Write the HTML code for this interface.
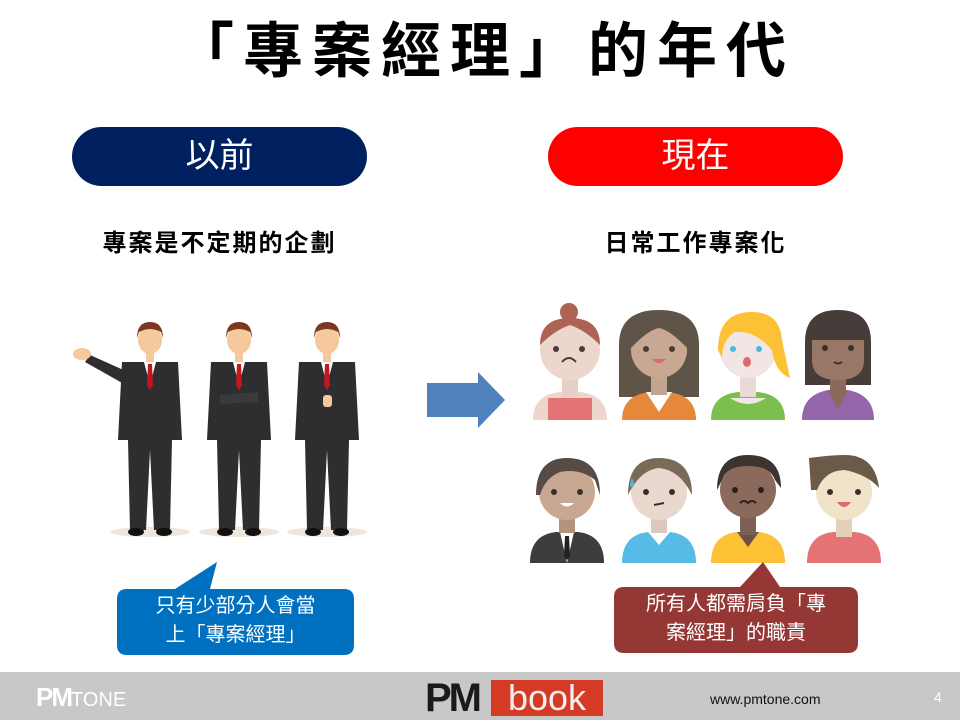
<!DOCTYPE html>
<html><head><meta charset="utf-8"><style>
html,body{margin:0;padding:0;background:#fff}
body{width:960px;height:720px;position:relative;overflow:hidden;font-family:"Liberation Sans","Noto Sans CJK TC",sans-serif}
.t{position:absolute;white-space:nowrap}
</style></head><body>
<div class="t" style="left:0;width:960px;top:10px;text-align:center;font-size:60px;font-weight:bold;line-height:84px;letter-spacing:9px;text-indent:9px">「專案經理」的年代</div>
<div class="t" style="left:72px;top:127px;width:295px;height:59px;border-radius:30px;background:#002060;color:#fff;font-size:34px;text-align:center;line-height:59px">以前</div>
<div class="t" style="left:548px;top:127px;width:295px;height:59px;border-radius:30px;background:#ff0000;color:#fff;font-size:34px;text-align:center;line-height:59px">現在</div>
<div class="t" style="left:72px;width:295px;top:229px;text-align:center;font-size:24px;font-weight:bold;line-height:30px;letter-spacing:2px">專案是不定期的企劃</div>
<div class="t" style="left:548px;width:295px;top:229px;text-align:center;font-size:24px;font-weight:bold;line-height:30px;letter-spacing:2px">日常工作專案化</div>

<svg width="960" height="720" style="position:absolute;left:0;top:0">
<defs>
<g id="man">
<ellipse cx="0" cy="532" rx="40" ry="5" fill="#eee6dd"/>
<path d="M-28 362 L28 362 L32 440 L22 440 L20 530 L4 530 L0 450 L-4 530 L-20 530 L-22 440 L-32 440 Z" fill="#2e2e30"/>
<path d="M-6 362 L6 362 L0 385 Z" fill="#fff"/>
<path d="M-2 364 L2 364 L3 385 L0 390 L-3 385 Z" fill="#c4161c"/>
<rect x="-4" y="350" width="8" height="12" fill="#f5c99b"/>
<ellipse cx="0" cy="340" rx="12" ry="14" fill="#f5c99b"/>
<path d="M-13 338 Q-13 322 0 322 Q13 322 13 338 L11 332 Q0 326 -11 332 Z" fill="#7a3a22"/>
<ellipse cx="-14" cy="532" rx="8" ry="4" fill="#111"/><ellipse cx="14" cy="532" rx="8" ry="4" fill="#111"/>
</g>
</defs>
<use href="#man" x="150" y="0"/>
<path d="M128 372 L90 355 L85 362 L124 384 Z" fill="#2e2e30"/>
<ellipse cx="82" cy="354" rx="9" ry="6" fill="#f5c99b"/>
<use href="#man" x="239" y="0"/>
<path d="M220 395 L258 392 L258 402 L220 404 Z" fill="#3a3a3c"/>
<use href="#man" x="327" y="0"/>
<rect x="323" y="395" width="9" height="12" rx="3" fill="#f5c99b"/>

<path d="M427 383 L478 383 L478 372 L505 400 L478 428 L478 417 L427 417 Z" fill="#4f81bd"/>

<g>
<path d="M533 420 Q533 395 560 392 L580 392 Q607 395 607 420 Z" fill="#edd6cc"/>
<path d="M548 420 L548 398 L592 398 L592 420 Z" fill="#e57373"/>
<rect x="562" y="375" width="16" height="22" fill="#e6cfc4"/>
<circle cx="570" cy="350" r="30" fill="#edd6cc"/>
<path d="M540 345 Q540 318 570 318 Q600 318 600 345 Q585 330 570 325 Q555 330 540 345Z" fill="#ad6352"/>
<circle cx="569" cy="312" r="9" fill="#ad6352"/>
<circle cx="556" cy="349" r="3" fill="#4a3b35"/><circle cx="582" cy="349" r="3" fill="#4a3b35"/>
<path d="M562 362 Q569 354 576 362" stroke="#4a3b35" stroke-width="2" fill="none"/>

<path d="M619 397 L619 345 Q619 310 659 310 Q699 310 699 345 L699 397 Z" fill="#5e5447"/>
<path d="M622 420 Q622 395 650 392 L668 392 Q696 395 696 420 Z" fill="#e6883a"/>
<path d="M646 392 L659 412 L672 392 Z" fill="#fff"/>
<rect x="651" y="375" width="16" height="20" fill="#c2a58f"/>
<circle cx="659" cy="350" r="28" fill="#c9a893"/>
<path d="M631 348 Q631 320 659 320 Q687 320 687 348 Q670 330 659 328 Q648 330 631 348Z" fill="#5e5447"/>
<circle cx="646" cy="349" r="3" fill="#4a3b35"/><circle cx="672" cy="349" r="3" fill="#4a3b35"/>
<path d="M652 359 L666 359 Q659 367 652 359Z" fill="#e0696f"/>

<path d="M711 420 Q711 395 738 392 L758 392 Q785 395 785 420 Z" fill="#7cbf4e"/>
<path d="M730 398 L766 398 Q748 410 730 398Z" fill="#f2e6e4"/>
<rect x="740" y="375" width="16" height="22" fill="#eadad6"/>
<circle cx="748" cy="350" r="28" fill="#f2e6e4"/>
<path d="M718 350 Q718 312 752 312 Q780 312 782 340 L790 378 Q775 372 772 350 Q755 330 735 332 Q722 340 722 358Z" fill="#fdc135"/>
<circle cx="733" cy="349" r="3" fill="#4fb6e0"/><circle cx="759" cy="349" r="3" fill="#4fb6e0"/>
<ellipse cx="747" cy="362" rx="4" ry="5" fill="#e0696f"/>

<path d="M805 385 L805 342 Q805 310 838 310 Q871 310 871 342 L871 385 Z" fill="#463d3b"/>
<path d="M802 420 Q802 395 828 390 L848 390 Q874 395 874 420 Z" fill="#9467ab"/>
<path d="M828 390 L838 410 L848 390Z" fill="#8b6a5c"/>
<rect x="830" y="372" width="16" height="22" fill="#8b6a5c"/>
<path d="M812 340 L864 340 L864 360 Q864 380 838 380 Q812 380 812 360Z" fill="#997767"/>
<circle cx="825" cy="348" r="3" fill="#3a2e2b"/><circle cx="851" cy="348" r="3" fill="#3a2e2b"/>
<path d="M834 362 Q838 365 842 362" stroke="#3a2e2b" stroke-width="2" fill="none"/>
</g>
<g>
<path d="M530 563 Q530 535 556 532 L578 532 Q604 535 604 563 Z" fill="#3e3d3d"/>
<path d="M560 532 L567 563 L574 532Z" fill="#fff"/><path d="M565 536 L569 536 L570 556 L567 560 L564 556Z" fill="#222"/>
<rect x="559" y="515" width="16" height="18" fill="#b39380"/>
<circle cx="567" cy="492" r="28" fill="#c9a893"/>
<path d="M536 495 Q536 458 567 458 Q600 458 600 495 L595 480 Q580 468 560 472 Q545 478 540 495Z" fill="#574b45"/>
<circle cx="554" cy="492" r="3" fill="#3a2e2b"/><circle cx="580" cy="492" r="3" fill="#3a2e2b"/>
<path d="M560 503 L574 503 Q567 510 560 503Z" fill="#fff"/>

<path d="M622 563 Q622 535 648 532 L670 532 Q696 535 696 563 Z" fill="#56bbe6"/>
<path d="M648 532 L659 545 L670 532Z" fill="#fff"/>
<rect x="651" y="515" width="16" height="18" fill="#dcc8bd"/>
<circle cx="659" cy="492" r="28" fill="#ead8cf"/>
<path d="M628 495 Q628 458 659 458 Q692 458 692 495 Q680 470 659 468 Q640 470 628 495Z" fill="#7a6a58"/>
<path d="M632 478 Q628 486 632 488 Q636 486 632 478Z" fill="#4fb6e0"/>
<circle cx="646" cy="492" r="3" fill="#3a2e2b"/><circle cx="672" cy="492" r="3" fill="#3a2e2b"/>
<path d="M654 505 L664 503" stroke="#3a2e2b" stroke-width="2"/>

<path d="M711 563 Q711 535 737 532 L759 532 Q785 535 785 563 Z" fill="#fdc135"/>
<path d="M737 532 L748 547 L759 532Z" fill="#6b5145"/>
<rect x="740" y="515" width="16" height="20" fill="#7d6053"/>
<circle cx="748" cy="490" r="28" fill="#8b6a5c"/>
<path d="M717 490 Q717 455 748 455 Q781 455 781 488 L775 480 Q770 466 748 466 Q726 466 722 480Z" fill="#3d3331"/>
<circle cx="735" cy="490" r="3" fill="#2a201d"/><circle cx="761" cy="490" r="3" fill="#2a201d"/>
<path d="M740 503 Q744 499 748 503 Q752 499 756 503" stroke="#2a201d" stroke-width="2" fill="none"/>

<path d="M807 563 Q807 535 833 532 L855 532 Q881 535 881 563 Z" fill="#e57373"/>
<rect x="836" y="515" width="16" height="22" fill="#e2d0b8"/>
<circle cx="844" cy="492" r="28" fill="#f1e3c9"/>
<path d="M811 490 L809 458 Q830 455 845 455 Q875 455 879 488 Q868 475 845 470 Q825 470 817 490Z" fill="#6b5a48"/>
<circle cx="830" cy="492" r="3" fill="#3a2e2b"/><circle cx="858" cy="492" r="3" fill="#3a2e2b"/>
<path d="M837 502 L851 502 Q844 512 837 502Z" fill="#e0696f"/>
</g>

<path d="M127 589 L175 589 L217 562 L210 589 L344 589 Q354 589 354 599 L354 645 Q354 655 344 655 L127 655 Q117 655 117 645 L117 599 Q117 589 127 589Z" fill="#0070c0"/>
<path d="M624 587 L740 587 L763 562 L780 587 L848 587 Q858 587 858 597 L858 643 Q858 653 848 653 L624 653 Q614 653 614 643 L614 597 Q614 587 624 587Z" fill="#953735"/>
</svg>
<div class="t" style="left:117px;width:237px;top:592px;text-align:center;color:#fff;font-size:20px;line-height:29px">只有少部分人會當<br>上「專案經理」</div>
<div class="t" style="left:614px;width:244px;top:590px;text-align:center;color:#fff;font-size:20px;line-height:29px">所有人都需肩負「專<br>案經理」的職責</div>

<div style="position:absolute;left:0;top:672px;width:960px;height:48px;background:#c8c8c8"></div>
<div class="t" style="left:36px;top:682px;color:#fff;font-size:26px;font-weight:bold;line-height:30px;letter-spacing:-2px">PM<span style="font-size:20px;font-weight:normal;letter-spacing:0">TONE</span></div>
<div class="t" style="left:425px;top:676px;color:#1a1a1a;font-size:40px;font-weight:bold;line-height:44px;letter-spacing:-3px">PM</div>
<div class="t" style="left:491px;top:680px;width:112px;height:36px;background:#d53a24;color:#f0f0f0;font-size:36px;line-height:36px;text-align:center">book</div>
<div class="t" style="left:710px;top:690px;color:#111;font-size:14px;line-height:18px">www.pmtone.com</div>
<div class="t" style="left:934px;top:688px;color:#fff;font-size:14px;line-height:18px">4</div>
</body></html>
